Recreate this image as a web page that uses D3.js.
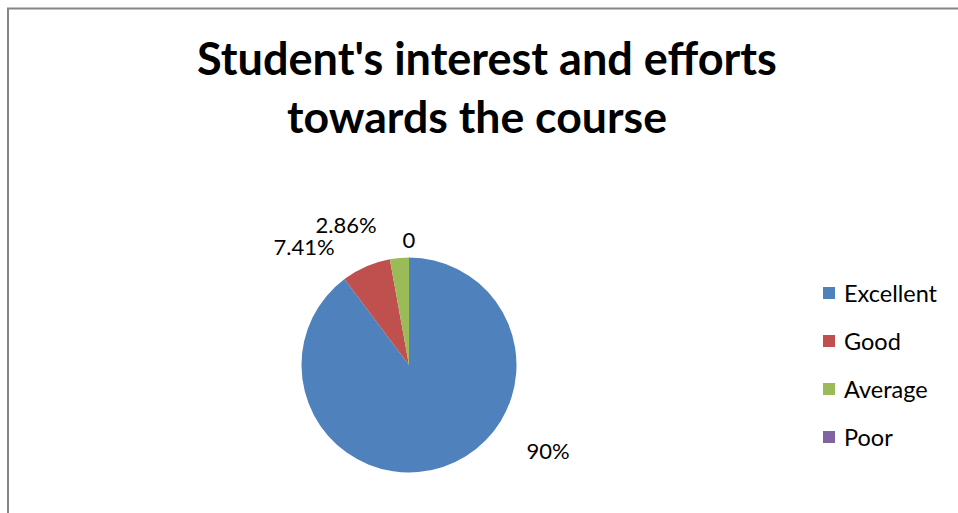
<!DOCTYPE html>
<html><head><meta charset="utf-8">
<script src="https://cdn.jsdelivr.net/npm/d3@7"></script>
<style>body{margin:0;background:#fff}svg{display:block}</style>
</head><body>
<script>
const categories = ["Excellent", "Good", "Average", "Poor"];
const values = [90, 7.41, 2.86, 0];
const labels = ["90%", "7.41%", "2.86%", "0"];
const colors = ["#4F81BD", "#C0504D", "#9BBB59", "#8064A2"];
const titleLines = ["Student's interest and efforts", "towards the course"];

const W = 958, H = 513;
const font = "Lato, 'Open Sans', sans-serif";
const svg = d3.select("body").append("svg").attr("width", W).attr("height", H);

svg.append("rect").attr("x", 8).attr("y", 8.5).attr("width", W + 20).attr("height", H + 20)
  .attr("fill", "#fff").attr("stroke", "#868686").attr("stroke-width", 2);

// title
const tW = [580, 380], tX = [487, 477], tY = [75, 133];
titleLines.forEach((t, i) => {
  const el = svg.append("text").attr("x", tX[i]).attr("y", tY[i]).attr("text-anchor", "middle")
    .attr("font-family", font).attr("font-weight", "bold").attr("font-size", 40).attr("fill", "#000").text(t);
  const w = el.node().getComputedTextLength();
  el.attr("font-size", 40 * tW[i] / w);
});

// pie
const cx = 409, cy = 365, r = 107.5;
const pie = d3.pie().sort(null).value(d => d)(values);
const arc = d3.arc().innerRadius(0).outerRadius(r);
const g = svg.append("g").attr("transform", `translate(${cx},${cy})`);
g.selectAll("path").data(pie).join("path").attr("d", arc)
  .attr("fill", (d, i) => colors[i]);

// data labels
const labelPos = [[548, 451], [304, 247], [346, 225], [409, 240]];
labels.forEach((t, i) => {
  svg.append("text").attr("x", labelPos[i][0]).attr("y", labelPos[i][1] + 8)
    .attr("text-anchor", "middle").attr("font-family", font).attr("font-size", 22).attr("fill", "#000").text(t);
});

// legend
const ly = d3.scalePoint().domain(categories).range([293, 437]);
const lg = svg.append("g");
categories.forEach((c, i) => {
  lg.append("rect").attr("x", 823).attr("y", ly(c) - 6).attr("width", 12).attr("height", 12).attr("fill", colors[i]);
  lg.append("text").attr("x", 844).attr("y", ly(c) + 8.5).attr("font-family", font).attr("font-size", 23.5)
    .attr("fill", "#000").text(c);
});
</script>
</body></html>
